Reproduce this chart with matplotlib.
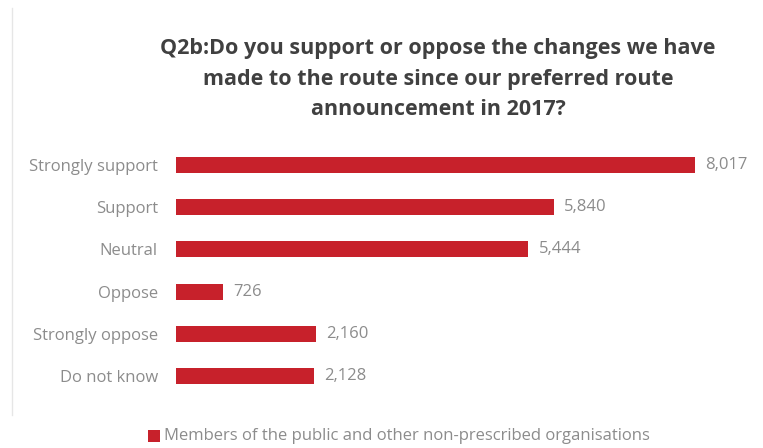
import matplotlib
matplotlib.use("Agg")
import matplotlib.pyplot as plt
from matplotlib.patches import Rectangle
from matplotlib.lines import Line2D

categories = ["Strongly support", "Support", "Neutral", "Oppose", "Strongly oppose", "Do not know"]
values = [8017, 5840, 5444, 726, 2160, 2128]
value_labels = ["8,017", "5,840", "5,444", "726", "2,160", "2,128"]
series_name = "Members of the public and other non-prescribed organisations"
title = ("Q2b:Do you support or oppose the changes we have\n"
         "made to the route since our preferred route\n"
         "announcement in 2017?")

W, H = 763, 448
bar_color = "#C7212B"
text_gray = "#8C8C8C"
title_color = "#404040"
label_font = dict(family="Open Sans", fontsize=12, color=text_gray)

fig = plt.figure(figsize=(W / 100, H / 100), dpi=100)
fig.patch.set_facecolor("white")

# plot area in pixel terms
left_px, right_px = 176, 735
top_px, bottom_px = 144, 397
ax = fig.add_axes([left_px / W, 1 - bottom_px / H,
                   (right_px - left_px) / W, (bottom_px - top_px) / H])
ax.set_xlim(0, 8635)
ax.set_ylim(len(categories) - 0.5, -0.5)

ys = list(range(len(categories)))
ax.barh(ys, values, height=0.38, color=bar_color, edgecolor="none")

for y, v, lab in zip(ys, values, value_labels):
    ax.text(v + 160, y, lab, va="center", ha="left", **label_font)

ax.set_yticks(ys)
ax.set_yticklabels(categories, **label_font)
ax.tick_params(axis="y", length=0, pad=13)
ax.set_xticks([])
for s in ax.spines.values():
    s.set_visible(False)

fig.text(438 / W, 1 - 79 / H, title, ha="center", va="center", fontsize=15.5,
         family="Open Sans", weight="bold", color=title_color, linespacing=1.6)

# legend
fig.add_artist(Rectangle((148 / W, 1 - 442 / H), 12 / W, 12 / H,
                         transform=fig.transFigure, color=bar_color, lw=0))
fig.text(164 / W, 1 - 436 / H, series_name, ha="left", va="center", **label_font)

# faint chart border on the left
fig.add_artist(Line2D([12 / W, 12 / W], [1 - 415 / H, 1 - 8 / H],
                      transform=fig.transFigure, color="#E6E6E6", lw=1))

fig.savefig("out.png", dpi=100, facecolor="white")
